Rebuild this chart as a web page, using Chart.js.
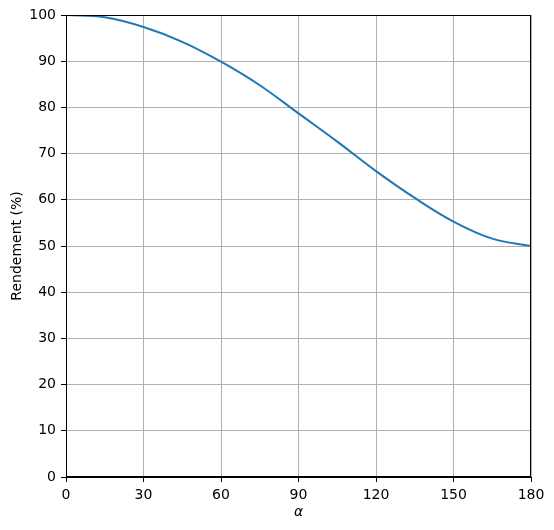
<!DOCTYPE html>
<html>
<head>
<meta charset="utf-8">
<script src="https://cdn.jsdelivr.net/npm/chart.js@4/dist/chart.umd.min.js"></script>
<style>
  html, body { margin: 0; padding: 0; background: #fff; }
  #chart { display: block; }
</style>
</head>
<body>
<canvas id="chart" width="554" height="530"></canvas>
<script>
// angle alpha (degrees) and efficiency
const alphaDeg = [0, 15, 30, 45, 60, 75, 90, 105, 120, 135, 150, 165, 180];
const rendement = [100, 99.5, 97.4, 94.2, 89.9, 84.8, 78.7, 72.6, 66.2, 60.4, 55.3, 51.6, 50];
const xTicks = [0, 30, 60, 90, 120, 150, 180];
const yTicks = [0, 10, 20, 30, 40, 50, 60, 70, 80, 90, 100];

const tickFont = { family: 'DejaVu Sans', size: 14 };

// top/right spines like matplotlib
const frame = {
    id: 'frame',
    afterDraw(chart) {
        const a = chart.chartArea, ctx = chart.ctx;
        ctx.save();
        ctx.strokeStyle = '#000';
        ctx.lineWidth = 1;
        ctx.strokeRect(Math.round(a.left) + 0.5, Math.round(a.top) + 0.5,
            Math.round(a.right - a.left) - 1, Math.round(a.bottom - a.top) - 1);
        ctx.restore();
    }
};

new Chart(document.getElementById('chart').getContext('2d'), {
    type: 'line',
    data: {
        datasets: [{
            data: alphaDeg.map((a, i) => ({ x: a, y: rendement[i] })),
            borderColor: '#1f77b4', borderWidth: 2, pointRadius: 0,
            tension: 0.4, fill: false
        }]
    },
    options: {
        responsive: false, animation: false,
        layout: { padding: { top: 15, right: 23, left: 0, bottom: 0 } },
        plugins: { legend: { display: false }, tooltip: { enabled: false } },
        scales: {
            x: {
                type: 'linear', min: 0, max: 180,
                afterBuildTicks: s => { s.ticks = xTicks.map(v => ({ value: v })); },
                afterFit: s => { s.height = 53; },
                ticks: { font: tickFont, color: '#000', padding: 5, maxRotation: 0 },
                grid: { color: '#b0b0b0', lineWidth: 1, tickColor: '#000', tickLength: 5 },
                border: { display: true, color: '#000', width: 1 },
                title: { display: true, text: 'α', font: { family: 'DejaVu Sans', size: 14, style: 'italic' }, color: '#000', padding: 9 }
            },
            y: {
                min: 0, max: 100,
                afterBuildTicks: s => { s.ticks = yTicks.map(v => ({ value: v })); },
                afterFit: s => { s.width = 66; },
                ticks: { font: tickFont, color: '#000', padding: 5 },
                grid: { color: '#b0b0b0', lineWidth: 1, tickColor: '#000', tickLength: 5 },
                border: { display: true, color: '#000', width: 1 },
                title: { display: true, text: 'Rendement (%)', font: { family: 'DejaVu Sans', size: 14 }, color: '#000', padding: 9 }
            }
        }
    },
    plugins: [frame]
});
</script>
</body>
</html>
